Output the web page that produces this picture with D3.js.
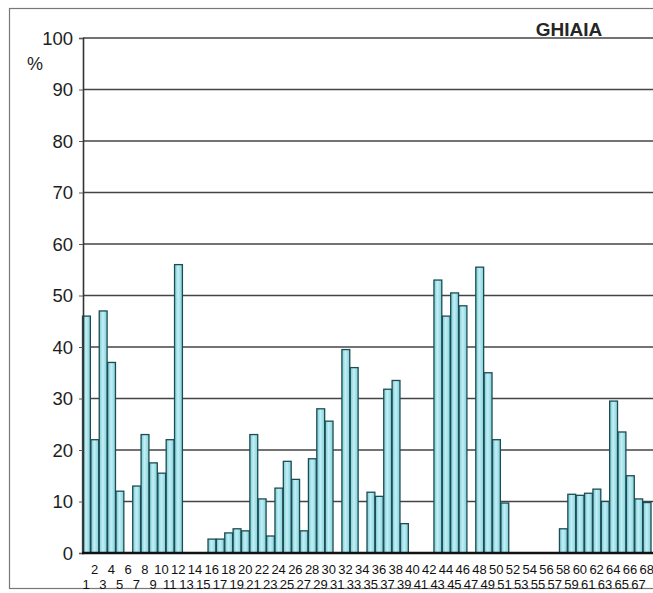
<!DOCTYPE html>
<html>
<head>
<meta charset="utf-8">
<script src="https://cdn.jsdelivr.net/npm/d3@7"></script>
<style>
  html, body { margin: 0; padding: 0; background: #fff; }
  svg { display: block; font-family: "Liberation Sans", Arial, sans-serif; }
</style>
</head>
<body>
<svg id="chart" width="653" height="593"></svg>
<script>
// ---- data ----
const title = "GHIAIA";
const categories = d3.range(1, 69).map(String);
const values = [
  46, 22, 47, 37, 12, 0, 13, 23, 17.5, 15.5, 22, 56,
  0, 0, 0,
  2.7, 2.7, 3.9, 4.7, 4.3, 23, 10.5, 3.3, 12.6, 17.8, 14.3, 4.3, 18.3, 28, 25.6,
  0, 39.5, 36, 0, 11.8, 11, 31.8, 33.5, 5.7,
  0, 0, 0,
  53, 46, 50.5, 48, 0, 55.5, 35, 22, 9.7,
  0, 0, 0, 0, 0, 0,
  4.7, 11.4, 11.2, 11.6, 12.4, 10, 29.5, 23.5, 15, 10.5, 9.8
];
const yTicks = [0, 10, 20, 30, 40, 50, 60, 70, 80, 90, 100];
const yUnit = "%";

(function () {
// ---- layout ----
const svg = d3.select("#chart");
const mLeft = 83, mRight = 651, mTop = 38, mBottom = 553;

const x = d3.scaleBand().domain(categories).range([mLeft - 1, mRight]).paddingInner(0).paddingOuter(0);
const y = d3.scaleLinear().domain([0, 100]).range([mBottom, mTop]);

// outer frame
svg.append("rect").attr("x", 9.5).attr("y", 8.5).attr("width", 660).attr("height", 580)
  .attr("fill", "none").attr("stroke", "#777").attr("stroke-width", 1.2);

// gradient for bars
const defs = svg.append("defs");
const grad = defs.append("linearGradient").attr("id", "barGrad").attr("x1", "0").attr("x2", "1").attr("y1", "0").attr("y2", "0");
grad.append("stop").attr("offset", "0%").attr("stop-color", "#74cbd8");
grad.append("stop").attr("offset", "45%").attr("stop-color", "#c4eff4");
grad.append("stop").attr("offset", "100%").attr("stop-color", "#80d0dc");

// gridlines
svg.append("g").selectAll("line").data(yTicks.filter(d => d > 0)).join("line")
  .attr("x1", mLeft).attr("x2", 653)
  .attr("y1", d => y(d)).attr("y2", d => y(d))
  .attr("stroke", "#444").attr("stroke-width", 1.6);

// bars
svg.append("g").selectAll("rect").data(values.map((v, i) => ({c: categories[i], v})).filter(d => d.v > 0)).join("rect")
  .attr("x", d => x(d.c) + 0.5)
  .attr("width", x.bandwidth() - 0.5)
  .attr("y", d => y(d.v))
  .attr("height", d => y(0) - y(d.v))
  .attr("fill", "url(#barGrad)")
  .attr("stroke", "#1d4c52").attr("stroke-width", 1.3);

// y axis
const yAxis = d3.axisLeft(y).tickValues(yTicks).tickSize(4).tickPadding(6).tickFormat(d3.format("d"));
const ga = svg.append("g").attr("transform", `translate(${mLeft},0)`).call(yAxis);
ga.select(".domain").attr("stroke", "#333").attr("stroke-width", 1.6);
ga.selectAll(".tick line").attr("stroke", "#555");
ga.selectAll(".tick text").attr("font-size", 18.5).attr("fill", "#1e1e1e")
  .attr("font-family", "Liberation Sans, Arial, sans-serif").attr("dy", "0.34em");

// unit label
svg.append("text").attr("x", 35).attr("y", 70).attr("text-anchor", "middle")
  .attr("font-size", 18).attr("fill", "#1e1e1e").text(yUnit);

// x baseline
svg.append("line").attr("x1", mLeft - 1).attr("x2", 653).attr("y1", mBottom).attr("y2", mBottom)
  .attr("stroke", "#111").attr("stroke-width", 2.4);

// x labels, two rows
svg.append("g").selectAll("text").data(categories).join("text")
  .attr("x", d => x(d) + x.bandwidth() / 2)
  .attr("y", (d, i) => (i % 2 === 1) ? 574 : 589)
  .attr("text-anchor", "middle")
  .attr("font-size", 13)
  .attr("fill", "#111")
  .text(d => d);

// title
svg.append("text").attr("x", 569).attr("y", 36).attr("text-anchor", "middle")
  .attr("font-size", 19).attr("font-weight", "bold").attr("fill", "#262626").text(title);
})();
</script>
</body>
</html>
